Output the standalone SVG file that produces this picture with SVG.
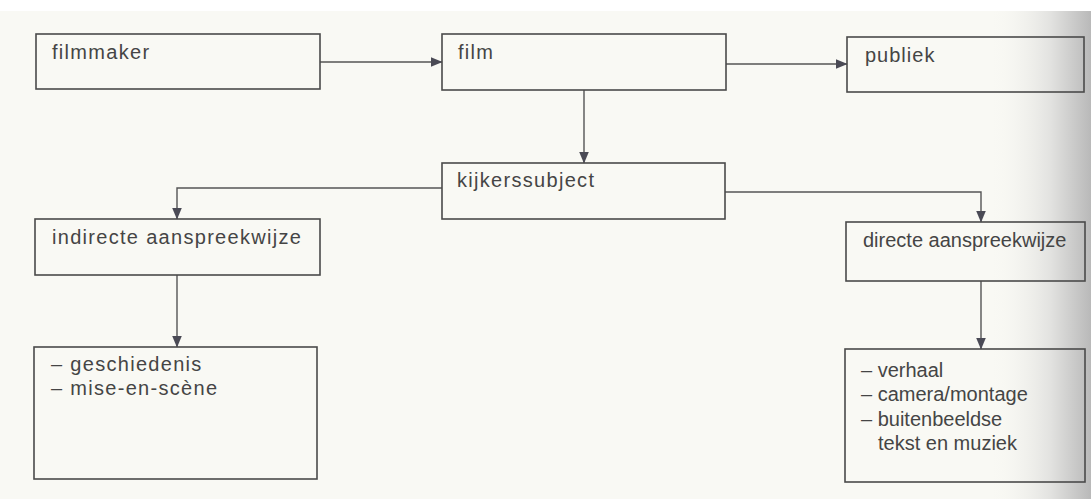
<svg xmlns="http://www.w3.org/2000/svg" width="1091" height="499" viewBox="0 0 1091 499">
  <defs>
    <linearGradient id="curl" x1="0" y1="0" x2="1" y2="0">
      <stop offset="0" stop-color="#f8f8f3" stop-opacity="0"/>
      <stop offset="0.6" stop-color="#e2e2e0" stop-opacity="1"/>
      <stop offset="1" stop-color="#b9b9b9" stop-opacity="1"/>
    </linearGradient>
    <marker id="arrow" viewBox="0 0 12 10" refX="11.5" refY="5" markerWidth="12" markerHeight="10" markerUnits="userSpaceOnUse" orient="auto">
      <path d="M0,0 L12,5 L0,10 Z" fill="#4a4a55"/>
    </marker>
    <style>
      .box { fill: none; stroke: #4a4a4a; stroke-width: 1.6; }
      .lbl { font-family: "Liberation Sans", Arial, sans-serif; font-size: 20px; fill: #454545; letter-spacing: 1.3px; }
      .lblr { font-family: "Liberation Sans", Arial, sans-serif; font-size: 20px; fill: #454545; letter-spacing: 0px; }
      .conn { fill: none; stroke: #555; stroke-width: 1.4; marker-end: url(#arrow); }
    </style>
  </defs>

  <rect x="0" y="0" width="1091" height="499" fill="#f9f9f4"/>
  <rect x="0" y="0" width="1091" height="11" fill="#ffffff"/>
  <rect x="990" y="11" width="101" height="488" fill="url(#curl)"/>

  <g id="connectors">
    <line class="conn" x1="320" y1="62" x2="442" y2="62"/>
    <line class="conn" x1="726" y1="64" x2="847" y2="64"/>
    <line class="conn" x1="584" y1="90" x2="584" y2="163"/>
    <polyline class="conn" points="442,188 177,188 177,219"/>
    <line class="conn" x1="177" y1="275" x2="177" y2="347"/>
    <polyline class="conn" points="725,192 981,192 981,222"/>
    <line class="conn" x1="981" y1="281" x2="981" y2="349"/>
  </g>

  <g id="filmmaker">
    <rect class="box" x="36" y="34" width="284" height="55"/>
    <text class="lbl" x="52" y="59">filmmaker</text>
  </g>
  <g id="film">
    <rect class="box" x="442" y="34" width="284" height="56"/>
    <text class="lbl" x="458" y="59">film</text>
  </g>
  <g id="publiek">
    <rect class="box" x="847" y="37" width="237" height="55"/>
    <text class="lbl" x="865" y="62" style="letter-spacing:1px">publiek</text>
  </g>
  <g id="kijkerssubject">
    <rect class="box" x="442" y="163" width="283" height="56"/>
    <text class="lbl" x="457" y="187">kijkerssubject</text>
  </g>
  <g id="indirecte">
    <rect class="box" x="35" y="219" width="285" height="56"/>
    <text class="lbl" x="52" y="244">indirecte aanspreekwijze</text>
  </g>
  <g id="directe">
    <rect class="box" x="846" y="222" width="239" height="59"/>
    <text class="lblr" x="863" y="247">directe aanspreekwijze</text>
  </g>
  <g id="indirect-list">
    <rect class="box" x="34" y="347" width="283" height="132"/>
    <text class="lbl" x="51" y="371">– geschiedenis</text>
    <text class="lbl" x="51" y="395">– mise-en-scène</text>
  </g>
  <g id="direct-list">
    <rect class="box" x="845" y="349" width="240" height="133"/>
    <text class="lblr" x="861" y="377">– verhaal</text>
    <text class="lblr" x="861" y="401">– camera/montage</text>
    <text class="lblr" x="861" y="426">– buitenbeeldse</text>
    <text class="lblr" x="878" y="450">tekst en muziek</text>
  </g>
</svg>
